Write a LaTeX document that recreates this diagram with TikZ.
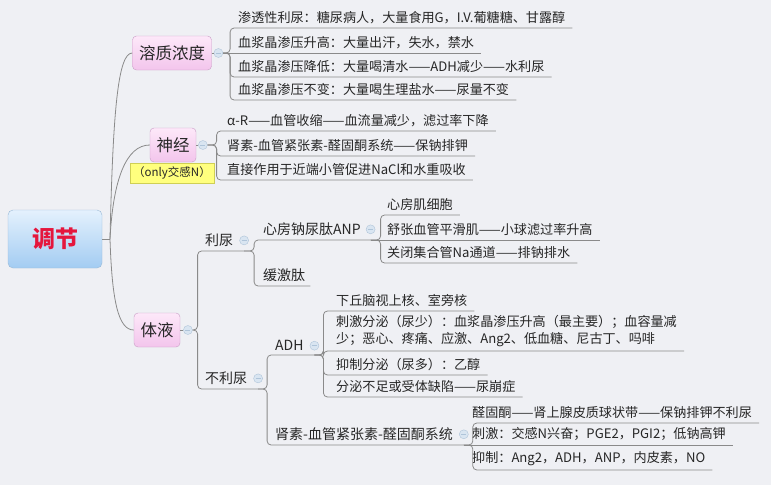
\documentclass[tikz,border=0pt]{standalone}
\usepackage{fontspec}
\setmainfont{Noto Sans CJK SC}
\usetikzlibrary{positioning}
\definecolor{bgcol}{HTML}{EFF0F4}
\definecolor{linecol}{HTML}{8A8A8A}
\definecolor{txtcol}{HTML}{262626}
\definecolor{pinktop}{HTML}{FDE8F9}
\definecolor{pinkbot}{HTML}{F3C5EC}
\definecolor{pinkline}{HTML}{C99DC5}
\definecolor{bluetop}{HTML}{E4F1FD}
\definecolor{bluebot}{HTML}{A3CCF2}
\definecolor{blueline}{HTML}{98B8D6}
\definecolor{rootred}{HTML}{E5163C}
\definecolor{notefill}{HTML}{FFFF7E}
\definecolor{noteline}{HTML}{CFCF55}
\definecolor{foldfill}{HTML}{D9E5F1}
\definecolor{foldline}{HTML}{AFC4D9}
\begin{document}
\begin{tikzpicture}[
    x=1pt,y=-1pt,
    root/.style={draw=blueline,rounded corners=5pt,top color=bluetop,bottom color=bluebot,
        minimum width=94pt,minimum height=58pt,font=\fontsize{23}{26}\selectfont\bfseries,text=rootred},
    topic/.style={draw=pinkline,rounded corners=4pt,top color=pinktop,bottom color=pinkbot,
        minimum height=34pt,inner xsep=6.5pt,font=\fontsize{16.5}{19}\selectfont,text=txtcol},
    note/.style={draw=noteline,fill=notefill,inner xsep=3pt,minimum height=20pt,
        font=\fontsize{11.5}{13}\selectfont,text=txtcol},
    sub/.style={anchor=south west,inner xsep=5pt,inner ysep=4pt,font=\fontsize{14}{16}\selectfont,text=txtcol},
    leaf/.style={anchor=south west,inner xsep=7pt,inner ysep=4pt,align=left,
        font=\fontsize{13.1}{17}\selectfont,text=txtcol},
    fold/.style={circle,draw=foldline,fill=foldfill,inner sep=0pt,minimum size=9pt,
        path picture={\draw[foldline] ([xshift=2pt]path picture bounding box.west)--([xshift=-2pt]path picture bounding box.east);}},
    link/.style={draw=linecol,line width=0.8pt,rounded corners=4pt}
]
\fill[bgcol] (0,0) rectangle (771,485);

% main topics
\node[root] (tiaojie) at (55,239) {调节};
\node[topic] (rongzhi) at (172,53) {溶质浓度};
\node[topic] (shenjing) at (173,145) {神经};
\node[note] (only) at (172,173) {（only交感N）};
\node[topic] (tiye) at (157,330) {体液};

% sub topics
\node[sub] (liniao) at (200,251) {利尿};
\node[sub] (buliniao) at (200,389) {不利尿};
\node[sub] (anp) at (258,240) {心房钠尿肽ANP};
\node[sub] (huanji) at (258,286) {缓激肽};
\node[sub] (adh) at (270,355) {ADH};
\node[sub] (raas) at (270,445) {肾素-血管紧张素-醛固酮系统};

% leaves
\node[leaf] (s1) at (231,28) {渗透性利尿：糖尿病人，大量食用G，I.V.葡糖糖、甘露醇};
\node[leaf] (s2) at (231,53) {血浆晶渗压升高：大量出汗，失水，禁水};
\node[leaf] (s3) at (231,77) {血浆晶渗压降低：大量喝清水——ADH减少——水利尿};
\node[leaf] (s4) at (231,100) {血浆晶渗压不变：大量喝生理盐水——尿量不变};

\node[leaf] (n1) at (220,131) {α-R——血管收缩——血流量减少，滤过率下降};
\node[leaf] (n2) at (220,156) {肾素-血管紧张素-醛固酮系统——保钠排钾};
\node[leaf] (n3) at (220,180) {直接作用于近端小管促进NaCl和水重吸收};

\node[leaf] (a1) at (380,215) {心房肌细胞};
\node[leaf] (a2) at (380,240) {舒张血管平滑肌——小球滤过率升高};
\node[leaf] (a3) at (380,263) {关闭集合管Na通道——排钠排水};

\node[leaf] (d1) at (329,311) {下丘脑视上核、室旁核};
\node[leaf] (d2) at (329,351) {刺激分泌（尿少）：血浆晶渗压升高（最主要）；血容量减\\少；恶心、疼痛、应激、Ang2、低血糖、尼古丁、吗啡};
\node[leaf] (d3) at (329,375) {抑制分泌（尿多）：乙醇};
\node[leaf] (d4) at (329,397) {分泌不足或受体缺陷——尿崩症};

\node[leaf] (r1) at (465,423) {醛固酮——肾上腺皮质球状带——保钠排钾不利尿};
\node[leaf] (r2) at (465,445) {刺激：交感N兴奋；PGE2，PGI2；低钠高钾};
\node[leaf] (r3) at (465,470) {抑制：Ang2，ADH，ANP，内皮素，NO};

% fold buttons
\node[fold,right=2pt of rongzhi] (rz-fold) {};
\node[fold,right=2pt of shenjing] (sj-fold) {};
\node[fold,right=3pt of tiye] (ty-fold) {};
\node[fold,right=1pt of liniao] (ln-fold) {};
\node[fold,right=0pt of anp] (anp-fold) {};
\node[fold,right=1pt of buliniao] (bln-fold) {};
\node[fold,right=1pt of adh] (adh-fold) {};
\node[fold,right=1pt of raas] (raas-fold) {};

\coordinate (hub) at (110,239);
\coordinate (ln-out) at (ln-fold |- liniao.south);
\coordinate (bln-out) at (bln-fold |- buliniao.south);
\coordinate (anp-out) at (anp-fold |- anp.south);
\coordinate (adh-out) at (adh-fold |- adh.south);
\coordinate (raas-out) at (raas-fold |- raas.south);

% trunk
\draw[link] (tiaojie) -- (hub);
\draw[link] (hub) .. controls (113,110) and (118,53) .. (rongzhi.west);
\draw[link] (hub) .. controls (113,180) and (126,145) .. (shenjing.west);
\draw[link] (hub) .. controls (112,300) and (118,330) .. (tiye.west);

\draw[link] (rongzhi) -- (rz-fold);
\draw[link] (shenjing) -- (sj-fold);
\draw[link] (tiye) -- (ty-fold);

% branches
\draw[link] (rz-fold.east) -- ++(7,0) |- (s1.south east);
\draw[link] (rz-fold.east) -- (s2.south east);
\draw[link] (rz-fold.east) -- ++(7,0) |- (s3.south east);
\draw[link] (rz-fold.east) -- ++(7,0) |- (s4.south east);

\foreach \n in {n1,n2,n3}
  \draw[link] (sj-fold.east) -- ++(9,0) |- (\n.south east);

\draw[link] (ty-fold.east) -- ++(5,0) |- (ln-out);
\draw[link] (ty-fold.east) -- ++(5,0) |- (bln-out);

\draw[link] (ln-out) -- ++(10,0) |- (anp-out);
\draw[link] (ln-out) -- ++(10,0) |- (huanji.south east);

\draw[link] (anp-out) -- ++(10,0) |- (a1.south east);
\draw[link] (anp-out) -- (a2.south east);
\draw[link] (anp-out) -- ++(10,0) |- (a3.south east);

\draw[link] (bln-out) -- ++(9,0) |- (adh-out);
\draw[link] (bln-out) -- ++(9,0) |- (raas-out);

\foreach \n in {d1,d2,d3,d4}
  \draw[link] (adh-out) -- ++(9,0) |- (\n.south east);

\draw[link] (raas-out) -- ++(9,0) |- (r1.south east);
\draw[link] (raas-out) -- (r2.south east);
\draw[link] (raas-out) -- ++(9,0) |- (r3.south east);
\end{tikzpicture}
\end{document}
